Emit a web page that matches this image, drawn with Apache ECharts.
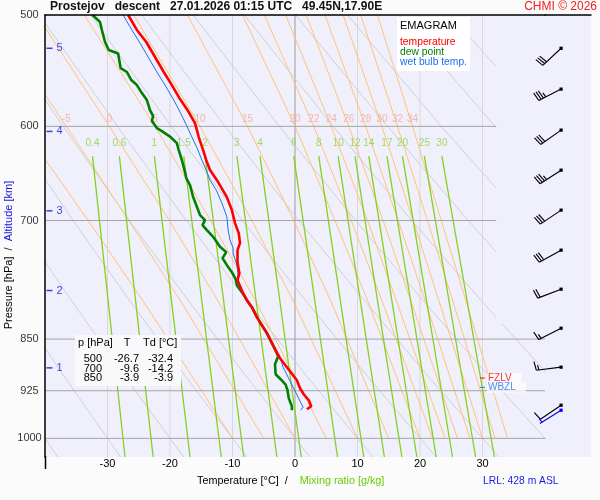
<!DOCTYPE html>
<html><head><meta charset="utf-8">
<script src="https://cdn.jsdelivr.net/npm/echarts/dist/echarts.min.js"></script>
<style>html,body{margin:0;padding:0;background:#fbfbfb}#c{width:600px;height:500px}</style>
</head><body><div id="c"></div>
<script>
const FONT = 'Liberation Sans, Arial, sans-serif';
const BG = '#f0f0fc';

// ---- sounding profiles ----
const tempP = [500,512.4,522.6,535.6,548.9,560.8,573.8,585.2,596.8,610.6,623.8,634.1,644.5,657.3,673.7,688.2,703.0,714.6,726.4,734.8,749.4,763.0,771.8,788.4,797.5,806.7,820.0,826.8,841.8,864.2,877.0,895.9,909.2,921.2,930.3,939.5,948.8,953.5];
const tempT = [-26.7,-25.3,-23.8,-22.4,-21.0,-19.7,-18.4,-17.1,-16.0,-15.4,-14.7,-14.2,-13.6,-12.3,-10.9,-10.1,-9.6,-9.0,-8.8,-9.2,-9.2,-8.9,-9.2,-8.3,-7.7,-6.9,-6.1,-5.6,-4.5,-3.2,-2.4,-0.8,0.3,0.8,1.4,2.2,2.6,1.9];
const dewP = [500,505.8,512.4,522.6,529.5,532.6,545.4,548.9,556.2,560.8,568.2,574.7,584.2,590.0,594.8,601.7,604.7,610.1,616.7,623.8,634.1,646.7,653.0,660.6,673.4,684.5,693.8,699.6,705.3,711.1,719.0,730.8,737.2,744.5,753.1,761.8,770.6,778.2,787.1,797.5,806.7,820.0,826.8,841.8,864.2,874.2,885.7,900.3,907.7,915.9,924.2,936.4,948.8,954.9];
const dewT = [-32.4,-31.2,-30.9,-30.4,-29.8,-28.3,-27.9,-26.9,-26.2,-25.3,-24.5,-23.7,-23.2,-22.7,-22.9,-22.1,-21.3,-20.0,-18.9,-18.6,-18.1,-17.6,-17.4,-16.8,-16.3,-15.7,-15.2,-14.4,-14.8,-14.1,-13.1,-12.0,-11.0,-11.6,-10.9,-10.1,-9.5,-9.3,-8.5,-7.7,-6.9,-6.1,-5.6,-4.5,-3.2,-2.7,-3.2,-3.1,-2.3,-1.5,-1.2,-1.0,-0.5,-0.5];
const wbP = [500,512.4,523.5,535.6,548.9,560.8,574.7,586,599.7,610.6,621.2,634.1,644.5,655.2,666.0,680.3,695.8,711.1,722.9,732.4,738.4,753.1,765.5,771.8,788.4,797.5,806.7,820.0,826.8,841.8,864.2,875.6,890.1,904.8,919.7,934.9,950.3,954.9];
const wbT = [-27.5,-26.1,-24.8,-23.5,-22.1,-20.8,-19.4,-18.4,-17.3,-16.5,-15.7,-14.9,-14.2,-13.6,-12.6,-11.7,-10.9,-10.7,-10.4,-9.9,-9.9,-9.3,-9.1,-9.3,-8.4,-7.7,-6.9,-6.1,-5.6,-4.5,-3.2,-2.4,-1.9,-1.1,-0.3,0.5,1.3,0.9];

// ---- summary table ----
const tableP = [500, 700, 850];
const tableT = [-26.7, -9.6, -3.9];
const tableTd = [-32.4, -14.2, -3.9];

// ---- diagram grid ----
const pressureTicks = [500, 600, 700, 850, 925, 1000];
const isobarP = [600, 700, 850, 925, 1000];
const isotherms = [-30, -20, -10, 0, 10, 20, 30];
const altKm = [1, 2, 3, 4, 5];
const altP = [891, 785, 689, 605, 528];

// pseudo-adiabats (theta_w labels), T at moistP
const moistP = [1000, 800, 700, 600, 500];
const moistThetaW = [-10, -5, 0, 5, 10, 15, 20, 22, 24, 26, 28, 30, 32, 34];
const moistT = [
  [-10, -24.2, -33.1, -43.7, -56.0],
  [-5, -18.2, -26.6, -36.6, -48.5],
  [0, -12.2, -20.1, -29.7, -41.3],
  [5, -6.2, -13.5, -22.4, -33.7],
  [10, -0.2, -6.9, -15.2, -25.8],
  [15, 5.8, -0.2, -7.6, -17.2],
  [20, 11.7, 6.4, 0.0, -8.4],
  [22, 14.0, 9.0, 3.0, -4.9],
  [24, 16.3, 11.6, 5.8, -1.5],
  [26, 18.6, 14.1, 8.6, 1.8],
  [28, 20.9, 16.5, 11.3, 4.8],
  [30, 23.1, 18.9, 13.9, 7.7],
  [32, 25.3, 21.2, 16.4, 10.5],
  [34, 27.4, 23.4, 18.8, 13.2]
];

// dry adiabats (theta in degC), T at dryP
const dryP = [1031, 1000, 900, 800, 700, 600, 500];
const dryTheta = [-40, -30, -20, -10, 0, 10, 20, 30, 40, 50, 60, 70, 80, 90];
const dryT = [
  [-38.0, -40, -46.9, -54.4, -62.6, -71.7, -81.9],
  [-27.9, -30, -37.2, -45.0, -53.6, -63.0, -73.7],
  [-17.8, -20, -27.5, -35.6, -44.5, -54.4, -65.5],
  [-7.7, -10, -17.8, -26.3, -35.5, -45.7, -57.3],
  [2.4, 0, -8.1, -16.9, -26.5, -37.1, -49.1],
  [12.5, 10, 1.6, -7.5, -17.4, -28.4, -40.9],
  [22.6, 20, 11.3, 1.9, -8.4, -19.8, -32.7],
  [32.7, 30, 21.0, 11.3, 0.6, -11.2, -24.5],
  [42.7, 40, 30.7, 20.7, 9.7, -2.5, -16.3],
  [52.8, 50, 40.4, 30.0, 18.7, 6.1, -8.1],
  [62.9, 60, 50.1, 39.4, 27.7, 14.8, 0.1],
  [73.0, 70, 59.8, 48.8, 36.8, 23.4, 8.4],
  [83.1, 80, 69.5, 58.2, 45.8, 32.0, 16.6],
  [93.2, 90, 79.2, 67.6, 54.8, 40.7, 24.8]
];

// mixing ratio lines (g/kg): T at top (630 hPa) and bottom (1031 hPa)
const mixW = [0.4, 0.6, 1, 1.5, 2, 3, 4, 6, 8, 10, 12, 14, 17, 20, 25, 30];
const mixTopP = 630, mixBotP = 1031;
const mixTop = [-32.4, -28.1, -22.5, -17.8, -14.4, -9.3, -5.6, -0.2, 3.8, 6.9, 9.6, 11.8, 14.7, 17.2, 20.7, 23.5];
const mixBot = [-27.2, -22.7, -16.8, -11.8, -8.2, -2.9, 1.0, 6.8, 11.0, 14.3, 17.1, 19.5, 22.6, 25.2, 28.9, 31.9];

// wind (direction from, speed kt)
const windP = [528, 564.5, 603.7, 644.6, 688.2, 734.8, 783.3, 835, 890, 947.2];
const windDir = [227, 243, 235, 237, 236, 241, 249, 243, 263, 236];
const windKt = [30, 35, 30, 35, 30, 30, 20, 15, 15, 10];
const sfcWind = { p: 955, dir: 238, kt: 5 };
const barbColumnX = 0.35;

const fzlvP = 906, wbzlP = 920;
const lrlM = 428;
const upperClip = { tMin: 32.2, tMax: 40, pTop: 500, pBot: 829 };

// ---------------------------------------------
const chart = echarts.init(document.getElementById('c'));
const series = [];
const lb = { type: 'line', xAxisIndex: 0, yAxisIndex: 0, symbol: 'none', silent: true, animation: false };

isotherms.forEach(t => series.push(Object.assign({}, lb, {
  data: [[t, 500], [t, 1031]], z: 1,
  lineStyle: { color: t === 0 ? '#9a9a9a' : '#d8d8d8', width: 1 }
})));
dryTheta.forEach((th, i) => series.push(Object.assign({}, lb, {
  data: dryP.map((p, j) => [dryT[i][j], p]), z: 1,
  lineStyle: { color: '#d0d0d0', width: 1 }
})));
moistThetaW.forEach((th, i) => series.push(Object.assign({}, lb, {
  data: moistP.map((p, j) => [moistT[i][j], p]), z: 1,
  lineStyle: { color: '#ffc27a', width: 1 }
})));
mixW.forEach((w, i) => series.push(Object.assign({}, lb, {
  data: [[mixTop[i], mixTopP], [mixBot[i], mixBotP]], z: 1,
  lineStyle: { color: '#84d01c', width: 1.3 }
})));
isobarP.forEach(p => series.push(Object.assign({}, lb, {
  data: [[-40, p], [40, p]], z: 1,
  lineStyle: { color: '#a4a4a4', width: 1 }
})));

// mask of the upper-right corner of the diagram
series.push({
  type: 'custom', xAxisIndex: 0, yAxisIndex: 0, silent: true, z: 3, clip: false,
  data: [[upperClip.tMin, upperClip.pTop, upperClip.tMax, upperClip.pBot]],
  renderItem: (params, api) => {
    const a = api.coord([api.value(0), api.value(1)]);
    const b = api.coord([api.value(2), api.value(3)]);
    return { type: 'rect', shape: { x: a[0], y: a[1] + 1, width: b[0] - a[0] + 1, height: b[1] - a[1] - 1 }, style: { fill: BG } };
  }
});

const lblBase = { type: 'scatter', xAxisIndex: 0, yAxisIndex: 0, symbol: 'circle', symbolSize: 1,
  itemStyle: { color: 'rgba(0,0,0,0)' }, silent: true, clip: false, z: 4, animation: false };

series.push(Object.assign({}, lblBase, {
  data: moistThetaW.map((th, i) => [moistT[i][3], 600, th]).filter(d => d[0] >= -40),
  label: { show: true, position: 'inside', offset: [0, -7], formatter: p => p.value[2], color: '#f5a896', fontSize: 10, fontFamily: FONT }
}));
series.push(Object.assign({}, lblBase, {
  data: mixW.map((w, i) => [mixTop[i], mixTopP, w]),
  label: { show: true, position: 'inside', offset: [0, -13], formatter: p => p.value[2], color: '#8cd338', fontSize: 10, fontFamily: FONT }
}));
series.push(Object.assign({}, lblBase, {
  data: pressureTicks.map(p => [-40, p]),
  label: { show: true, position: 'inside', offset: [-15.5, 0], formatter: p => p.value[1], color: '#000', fontSize: 11, fontFamily: FONT }
}));
series.push(Object.assign({}, lblBase, {
  data: altKm.map((k, i) => [-40, altP[i], k]),
  label: { show: true, position: 'inside', offset: [14.5, 0], formatter: p => p.value[2], color: '#1010e0', fontSize: 11, fontFamily: FONT }
}));
series.push({
  type: 'scatter', xAxisIndex: 0, yAxisIndex: 0, silent: true, clip: false, z: 4, animation: false,
  symbol: 'rect', symbolSize: [6, 1.5], symbolOffset: [4.5, 0], itemStyle: { color: '#1010e0' },
  data: altKm.map((k, i) => [-40, altP[i]])
});
// FZLV / WBZL
series.push({
  type: 'scatter', xAxisIndex: 0, yAxisIndex: 0, silent: true, clip: false, z: 6, animation: false,
  symbol: 'rect', symbolSize: [5, 1.2],
  data: [
    { value: [30, fzlvP], name: 'FZLV', itemStyle: { color: '#ff0000' }, label: { color: '#ff0000' } },
    { value: [30, wbzlP], name: 'WBZL', itemStyle: { color: '#2a6ef0' }, label: { color: '#2a6ef0' } }
  ],
  label: { show: true, position: 'right', distance: 2, formatter: p => p.name, fontSize: 10, fontFamily: FONT,
    backgroundColor: 'rgba(255,255,255,0.85)', padding: [0, 10, 0, 1] }
});

// profiles
series.push(Object.assign({}, lb, { z: 5, data: dewP.map((p, i) => [dewT[i], p]), lineStyle: { color: '#008000', width: 2.6 } }));
series.push(Object.assign({}, lb, { z: 5, data: wbP.map((p, i) => [wbT[i], p]), lineStyle: { color: '#1f6fe8', width: 1 } }));
series.push(Object.assign({}, lb, { z: 5, data: tempP.map((p, i) => [tempT[i], p]), lineStyle: { color: '#ff0000', width: 2.6 } }));

// wind barbs
function barbRender(params, api) {
  const c = api.coord([api.value(0), api.value(1)]);
  const dir = api.value(2) * Math.PI / 180, spd = api.value(3);
  const col = api.value(4) ? '#0000ff' : '#000000';
  const ux = Math.sin(dir), uy = -Math.cos(dir);
  const L = 25, fl = 9, sp = 2.6, tilt = 8 * Math.PI / 180;
  const px = -uy, py = ux;
  const fx = px * Math.cos(tilt) + ux * Math.sin(tilt), fy = py * Math.cos(tilt) + uy * Math.sin(tilt);
  const ex = c[0] + ux * L, ey = c[1] + uy * L;
  const st = { stroke: col, lineWidth: 1.15 };
  const kids = [
    { type: 'line', shape: { x1: c[0], y1: c[1], x2: ex, y2: ey }, style: st },
    { type: 'rect', shape: { x: c[0] - 1.6, y: c[1] - 1.6, width: 3.2, height: 3.2 }, style: { fill: col } }
  ];
  const full = Math.floor(spd / 10), half = (spd % 10) >= 5;
  let k = 0;
  for (let i = 0; i < full; i++, k++) {
    const qx = ex - ux * sp * k, qy = ey - uy * sp * k;
    kids.push({ type: 'line', shape: { x1: qx, y1: qy, x2: qx + fx * fl, y2: qy + fy * fl }, style: st });
  }
  if (half) {
    if (full === 0) k = 1;
    const qx = ex - ux * sp * k, qy = ey - uy * sp * k;
    kids.push({ type: 'line', shape: { x1: qx, y1: qy, x2: qx + fx * fl * 0.55, y2: qy + fy * fl * 0.55 }, style: st });
  }
  return { type: 'group', children: kids };
}
series.push({
  type: 'custom', xAxisIndex: 2, yAxisIndex: 1, clip: false, z: 10, silent: true, animation: false,
  data: windP.map((p, i) => [barbColumnX, p, windDir[i], windKt[i], 0])
    .concat([[barbColumnX, sfcWind.p, sfcWind.dir, sfcWind.kt, 1]]),
  renderItem: barbRender
});

// ---- graphics (texts, boxes) ----
const txt = (x, y, text, o) => Object.assign({ type: 'text', x: x, y: y, z: 100,
  style: Object.assign({ text: text, fontFamily: FONT, fontSize: 11, fill: '#000', verticalAlign: 'middle' }, o || {}) });

const graphics = [
  txt(50, 7, 'Prostejov   descent   27.01.2026 01:15 UTC   49.45N,17.90E', { fontSize: 12, fontWeight: 'bold', fill: '#111' }),
  txt(597, 7, 'CHMI \u00a9 2026', { fontSize: 12, fill: '#ee2020', align: 'right' }),
  { type: 'line', z: 100, shape: { x1: 45.5, y1: 456, x2: 45.5, y2: 469 }, style: { stroke: '#000', lineWidth: 1.5 } },
  { type: 'text', x: 9, y: 255, rotation: Math.PI / 2, z: 100, style: {
      text: '{a|Pressure [hPa]  /  }{b|Altitude [km]}', align: 'center', verticalAlign: 'middle',
      rich: { a: { fill: '#000', color: '#000', fontSize: 11, fontFamily: FONT }, b: { fill: '#1010e0', color: '#1010e0', fontSize: 11, fontFamily: FONT } } } },
  { type: 'text', x: 197, y: 481, z: 100, style: {
      text: '{a|Temperature [\u00b0C]  /    }{b|Mixing ratio [g/kg]}', verticalAlign: 'middle',
      rich: { a: { fill: '#000', color: '#000', fontSize: 10.8, fontFamily: FONT }, b: { fill: '#66cc00', color: '#66cc00', fontSize: 10.8, fontFamily: FONT } } } },
  txt(483, 481, 'LRL: ' + lrlM + ' m ASL', { fontSize: 10.3, fill: '#1a1ae6' }),
  // legend box
  { type: 'rect', z: 99, shape: { x: 397, y: 17, width: 73, height: 54 }, style: { fill: '#ffffff' } },
  txt(400, 26, 'EMAGRAM', { fontSize: 11 }),
  txt(400, 42, 'temperature', { fontSize: 10.3, fill: '#ff0000' }),
  txt(400, 52, 'dew point', { fontSize: 10.3, fill: '#008000' }),
  txt(400, 62, 'wet bulb temp.', { fontSize: 10.3, fill: '#1f6fe8' }),
  // table
  { type: 'rect', z: 99, shape: { x: 75, y: 335, width: 106, height: 51 }, style: { fill: '#f9f9fb' } },
  txt(78, 343, 'p [hPa]'),
  txt(127, 343, 'T', { align: 'center' }),
  txt(143, 343, 'Td [\u00b0C]')
];
tableP.forEach((p, i) => {
  const y = 359 + i * 9.7;
  graphics.push(txt(102, y, String(p), { align: 'right' }));
  graphics.push(txt(139, y, tableT[i].toFixed(1), { align: 'right' }));
  graphics.push(txt(173, y, tableTd[i].toFixed(1), { align: 'right' }));
});

chart.setOption({
  animation: false,
  backgroundColor: '#fbfbfb',
  grid: [
    { left: 45, top: 15, width: 500, height: 442, show: true, backgroundColor: BG, borderWidth: 0 },
    { left: 545, top: 15, width: 46, height: 442, show: true, backgroundColor: BG, borderWidth: 0 }
  ],
  xAxis: [
    { gridIndex: 0, type: 'value', min: -40, max: 40, interval: 10, position: 'bottom',
      axisLine: { show: false }, axisTick: { show: false }, splitLine: { show: false },
      axisLabel: { margin: 1, color: '#000', fontSize: 11, fontFamily: FONT, formatter: v => (v <= -40 || v >= 40) ? '' : String(v) } },
    { gridIndex: 0, type: 'value', min: -40, max: 40, position: 'top', z: 20,
      axisLine: { show: true, onZero: false, lineStyle: { color: '#000', width: 1.5 } },
      axisTick: { show: false }, axisLabel: { show: false }, splitLine: { show: false } },
    { gridIndex: 1, type: 'value', min: 0, max: 1, show: false },
    { gridIndex: 1, type: 'value', min: 0, max: 1, position: 'top', z: 20,
      axisLine: { show: true, onZero: false, lineStyle: { color: '#000', width: 1.5 } },
      axisTick: { show: false }, axisLabel: { show: false }, splitLine: { show: false } }
  ],
  yAxis: [
    { gridIndex: 0, type: 'log', min: 500, max: 1031, inverse: true, z: 20,
      axisLine: { show: true, onZero: false, lineStyle: { color: '#000', width: 1.5 } },
      axisTick: { show: false }, axisLabel: { show: false }, splitLine: { show: false } },
    { gridIndex: 1, type: 'log', min: 500, max: 1031, inverse: true, show: false }
  ],
  series: series,
  graphic: graphics
});
</script></body></html>
